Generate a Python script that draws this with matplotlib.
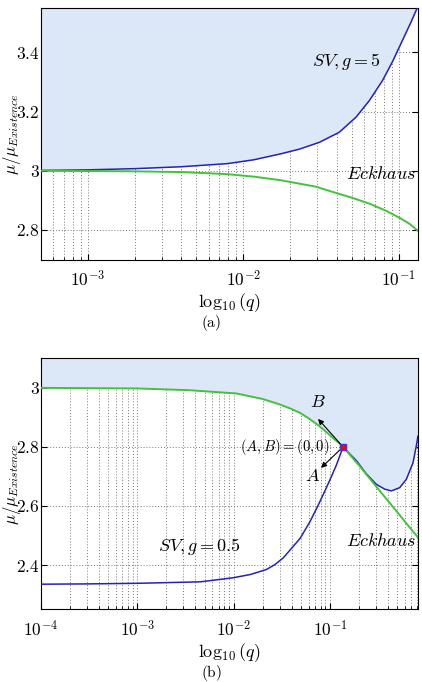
import numpy as np
import matplotlib
matplotlib.use("Agg")
import matplotlib.pyplot as plt
from matplotlib.ticker import FixedLocator, FuncFormatter, LogLocator, NullFormatter

plt.rcParams['mathtext.fontset'] = 'cm'
plt.rcParams['font.family'] = ['DejaVu Serif']

# panel (a): g = 5
top_q_sv = [5e-4, 1e-3, 2e-3, 4e-3, 7.9e-3, 0.0117, 0.0174, 0.023, 0.0309, 0.0415,
            0.0532, 0.0648, 0.0788, 0.0912, 0.1057, 0.1196, 0.133]
top_mu_sv = [3.001, 3.003, 3.007, 3.0135, 3.024, 3.037, 3.057, 3.073, 3.096, 3.130,
             3.181, 3.237, 3.305, 3.368, 3.44, 3.50, 3.555]
top_q_e = [5e-4, 1e-3, 2e-3, 4e-3, 7.9e-3, 0.0117, 0.0174, 0.0294, 0.0395, 0.0506,
           0.0647, 0.0828, 0.1013, 0.118, 0.133]
top_mu_e = [3.0, 2.999, 2.998, 2.9955, 2.9885, 2.980, 2.968, 2.946, 2.925, 2.908,
            2.889, 2.865, 2.841, 2.82, 2.797]

# panel (b): g = 0.5
bot_q_e = [1e-4, 1e-3, 3.5e-3, 0.0107, 0.0202, 0.03, 0.0395, 0.0485, 0.06, 0.0724,
           0.088, 0.1077, 0.122, 0.137, 0.2037, 0.304, 0.452, 0.675, 0.82]
bot_mu_e = [3.0, 2.998, 2.992, 2.981, 2.962, 2.944, 2.929, 2.916, 2.897, 2.878,
            2.856, 2.830, 2.815, 2.80, 2.735, 2.665, 2.597, 2.527, 2.494]
bot_q_a = [1e-4, 3e-4, 1e-3, 4.5e-3, 0.01, 0.015, 0.022, 0.027, 0.033, 0.049,
           0.0617, 0.075, 0.09, 0.1, 0.1167, 0.1315, 0.137]
bot_mu_a = [2.335, 2.336, 2.338, 2.343, 2.357, 2.368, 2.385, 2.402, 2.425, 2.49,
            2.545, 2.60, 2.655, 2.688, 2.738, 2.784, 2.80]
bot_q_b = [0.137, 0.16, 0.188, 0.239, 0.304, 0.371, 0.435, 0.531, 0.622, 0.73, 0.80, 0.82]
bot_mu_b = [2.80, 2.777, 2.754, 2.709, 2.673, 2.657, 2.651, 2.662, 2.690, 2.746, 2.813, 2.836]
q_bif, mu_bif = 0.137, 2.80

blue = '#2323b8'
green = '#44c23a'
shade = '#dce8f8'
gridc = '#777777'


def style(ax, xlim, ylim, yticks, decades):
    ax.set_xscale('log')
    ax.set_xlim(*xlim)
    ax.set_ylim(*ylim)
    ax.xaxis.set_major_locator(FixedLocator(decades))
    ax.xaxis.set_major_formatter(FuncFormatter(lambda v, p: r'$10^{%d}$' % round(np.log10(v))))
    ax.xaxis.set_minor_locator(LogLocator(subs=np.arange(2, 10)))
    ax.xaxis.set_minor_formatter(NullFormatter())
    ax.yaxis.set_major_locator(FixedLocator(yticks))
    ax.yaxis.set_major_formatter(FuncFormatter(lambda v, p: r'$%g$' % round(v, 2)))
    ax.tick_params(which='both', direction='in', top=True, right=True, labelsize=12.5)
    ax.tick_params(which='major', length=4)
    ax.tick_params(which='minor', length=2)
    ax.tick_params(axis='x', pad=8)
    ax.tick_params(axis='y', pad=1)
    ax.grid(True, which='major', color=gridc, linestyle=(0, (1, 2)), lw=0.7)
    ax.grid(True, which='minor', axis='x', color=gridc, linestyle=(0, (1, 2)), lw=0.7)
    ax.set_axisbelow(True)
    ax.set_xlabel(r'$\log_{10}(q)$', fontsize=13, labelpad=0.5)
    ax.set_ylabel(r'$\mu/\mu_{Existence}$', fontsize=12)
    ax.yaxis.set_label_coords(-0.062, 0.5)


fig = plt.figure(figsize=(4.22, 6.82), dpi=100)

ax1 = fig.add_axes([0.0972, 0.6195, 0.893, 0.3688])
style(ax1, (5e-4, 0.133), (2.7, 3.55), [2.8, 3.0, 3.2, 3.4], [1e-3, 1e-2, 1e-1])
ax1.fill_between(top_q_sv, top_mu_sv, 3.6, color=shade, lw=0, zorder=1)
ax1.plot(top_q_sv, top_mu_sv, color=blue, lw=1.1, zorder=3)
ax1.plot(top_q_e, top_mu_e, color=green, lw=1.4, zorder=3)
ax1.text(0.0459, 3.369, r'$SV, g=5$', fontsize=13, ha='center', va='center')
ax1.text(0.129, 2.99, r'$Eckhaus$', fontsize=13, ha='right', va='center')
fig.text(0.5, 1 - 323 / 682, r'$\mathrm{(a)}$', fontsize=11, ha='center', va='center')

ax2 = fig.add_axes([0.0972, 0.1066, 0.893, 0.368])
style(ax2, (1e-4, 0.82), (2.25, 3.1), [2.4, 2.6, 2.8, 3.0], [1e-4, 1e-3, 1e-2, 1e-1])
n_e = bot_q_e.index(q_bif)
bnd_q = bot_q_e[:n_e + 1] + bot_q_b[1:]
bnd_mu = bot_mu_e[:n_e + 1] + bot_mu_b[1:]
ax2.fill_between(bnd_q, bnd_mu, 3.2, color=shade, lw=0, zorder=1)
ax2.plot(bot_q_a, bot_mu_a, color=blue, lw=1.1, zorder=3)
ax2.plot(bot_q_b, bot_mu_b, color=blue, lw=1.1, zorder=3)
ax2.plot(bot_q_e, bot_mu_e, color=green, lw=1.4, zorder=3)
for off in [(-25, 28), (-22, -21)]:
    ax2.annotate('', xy=(q_bif, mu_bif), xytext=off, textcoords='offset pixels',
                 arrowprops=dict(arrowstyle='<|-', color='black', lw=0.8,
                                 mutation_scale=8, shrinkA=0, shrinkB=0), zorder=4)
ax2.plot([q_bif], [mu_bif], 's', ms=5, mfc='#e01010', mec='#5a2ad0', mew=1, zorder=5)
ax2.text(0.0995, 2.80, r'$(A,B)=(0,0)$', fontsize=10.5, ha='right', va='center')
ax2.text(0.0747, 2.953, r'$B$', fontsize=13, ha='center', va='center')
ax2.text(0.0662, 2.701, r'$A$', fontsize=13, ha='center', va='center')
ax2.text(0.00438, 2.461, r'$SV, g=0.5$', fontsize=13, ha='center', va='center')
ax2.text(0.79, 2.483, r'$Eckhaus$', fontsize=13, ha='right', va='center')
fig.text(0.5, 1 - 673 / 682, r'$\mathrm{(b)}$', fontsize=11, ha='center', va='center')

# keep the y labels inside the canvas
fig.canvas.draw()
for ax in (ax1, ax2):
    bb = ax.yaxis.label.get_window_extent()
    if bb.x0 < 1:
        w = ax.get_window_extent().width
        ax.yaxis.set_label_coords(-0.062 + (1 - bb.x0) / w, 0.5)

fig.savefig('out.png', dpi=100)
